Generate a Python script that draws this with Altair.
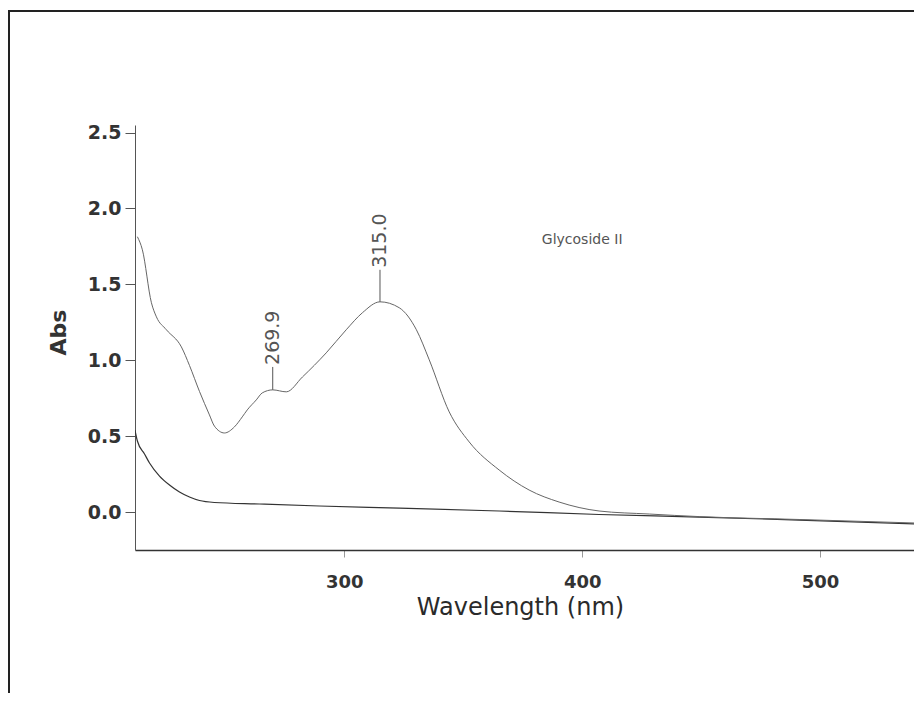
import altair as alt
import pandas as pd

# Glycoside II spectrum (upper trace)
wl_sample = [213.0, 215.1, 218.9, 221.0, 225.2, 231.5, 234.9, 239.1, 243.3,
             245.4, 249.6, 253.8, 257.1, 259.2, 263.0, 265.5, 269.9, 275.6, 282.4,
             292.4, 300.8, 307.6, 315.0, 323.1, 330.3, 335.7, 344.1, 352.5, 365.1,
             377.7, 390.3, 407.1, 428.2, 449.2, 491.2, 541.6]
abs_sample = [1.814, 1.728, 1.379, 1.286, 1.201, 1.088, 0.966, 0.795, 0.640,
              0.566, 0.521, 0.561, 0.627, 0.673, 0.739, 0.785, 0.805, 0.792, 0.890,
              1.049, 1.201, 1.313, 1.385, 1.346, 1.201, 1.003, 0.660, 0.462, 0.277,
              0.145, 0.066, 0.007, -0.013, -0.030, -0.049, -0.073]

# Blank / baseline trace (lower)
wl_blank = [212.0, 213.0, 216.0, 218.1, 222.3, 226.5, 230.7, 234.9, 239.1, 245.4,
            264.3, 289.5, 323.1, 365.1, 407.1, 449.2, 491.2, 541.6]
abs_blank = [0.540, 0.468, 0.383, 0.323, 0.237, 0.178, 0.132, 0.099, 0.076, 0.063,
             0.053, 0.040, 0.026, 0.007, -0.016, -0.033, -0.053, -0.079]

# Peak annotations
peak_wl = [269.9, 315.0]
peak_abs = [0.805, 1.385]
peak_top = [0.956, 1.596]
peak_text = ["269.9", "315.0"]

x_ticks = [300, 400, 500]
y_ticks = [0.0, 0.5, 1.0, 1.5, 2.0, 2.5]

sample_df = pd.DataFrame({"wl": wl_sample, "abs": abs_sample})
blank_df = pd.DataFrame({"wl": wl_blank, "abs": abs_blank})
peak_df = pd.DataFrame({"wl": peak_wl, "abs": peak_abs, "top": peak_top, "label": peak_text})

x_scale = alt.Scale(domain=[212, 539.5], nice=False, zero=False)
y_scale = alt.Scale(domain=[-0.25, 2.55], nice=False, zero=False)

x_axis = alt.Axis(
    values=x_ticks, format="d", grid=False,
    domainColor="#333", domainWidth=1.5,
    tickColor="#999", tickSize=7, tickWidth=1,
    labelFont="DejaVu Sans", labelFontSize=18, labelFontWeight="bold",
    labelColor="#333", labelPadding=16,
    title="Wavelength (nm)", titleFont="DejaVu Sans", titleFontSize=24,
    titleFontWeight="normal", titleColor="#2a2a2a",
    titleX=385, titleY=64, titleAlign="center", titleBaseline="alphabetic",
)
y_axis = alt.Axis(
    values=y_ticks, format=".1f", grid=False,
    domainColor="#555", domainWidth=1,
    tickColor="#555", tickSize=10, tickWidth=1,
    labelFont="DejaVu Sans", labelFontSize=19, labelFontWeight="bold",
    labelColor="#333", labelPadding=4,
    title="Abs", titleFont="DejaVu Sans", titleFontSize=22,
    titleFontWeight="bold", titleColor="#333",
    titleAngle=270, titleX=-77, titleY=207, titleAlign="center", titleBaseline="middle",
)

def xe(field="wl"):
    return alt.X(f"{field}:Q", scale=x_scale, axis=x_axis)

def ye(field="abs"):
    return alt.Y(f"{field}:Q", scale=y_scale, axis=y_axis)

frame = alt.Chart(pd.DataFrame({"k": [0]})).mark_rect(
    fill="transparent", stroke="#222", strokeWidth=2
).encode(
    x=alt.value(-126), x2=alt.value(900), y=alt.value(-114), y2=alt.value(700)
)

blank_line = alt.Chart(blank_df).mark_line(
    color="#333", strokeWidth=1.2, clip=True, interpolate="monotone"
).encode(x=xe(), y=ye())

sample_line = alt.Chart(sample_df).mark_line(
    color="#666", strokeWidth=1, clip=True, interpolate="monotone"
).encode(x=xe(), y=ye())

peak_rules = alt.Chart(peak_df).mark_rule(color="#555", strokeWidth=1).encode(
    x=xe(), y=ye(), y2=alt.Y2("top:Q")
)

peak_labels = alt.Chart(peak_df).mark_text(
    angle=270, align="left", baseline="middle", dx=2,
    font="DejaVu Sans", fontSize=19, color="#555"
).encode(x=xe(), y=ye("top"), text="label:N")

name_label = alt.Chart(pd.DataFrame({"k": [0]})).mark_text(
    font="DejaVu Sans", fontSize=14, color="#555", align="center", baseline="middle"
).encode(
    x=alt.datum(400, scale=x_scale),
    y=alt.datum(1.79, scale=y_scale),
    text=alt.value("Glycoside II"),
)

chart = alt.layer(
    frame, blank_line, sample_line, peak_rules, peak_labels, name_label
).properties(
    width=779, height=425,
    autosize=alt.AutoSizeParams(type="none"),
    padding={"left": 127, "top": 117, "right": 0, "bottom": 143},
    background="white",
).configure_view(strokeWidth=0)

chart.save("out.html", embed_options={"renderer": "svg", "actions": False})
